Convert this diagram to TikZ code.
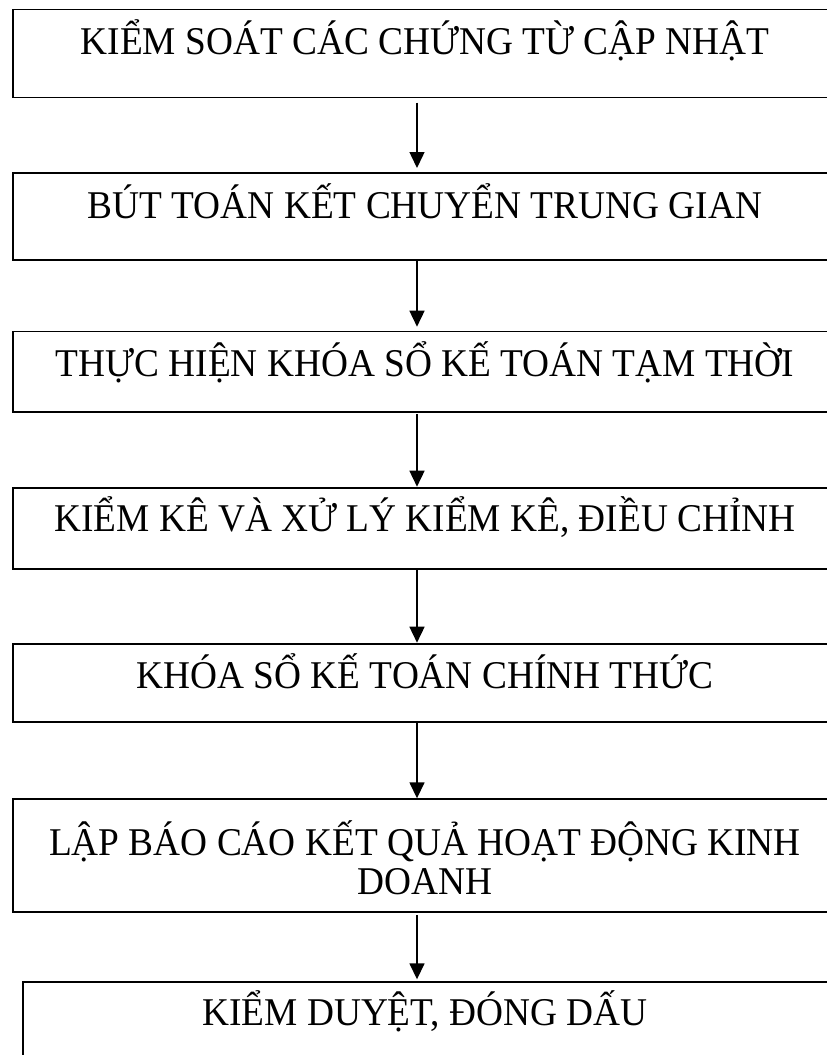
\documentclass[tikz,border=0pt]{standalone}
\usepackage{fontspec}
\setmainfont{Liberation Serif}[FakeStretch=0.95]
\usetikzlibrary{arrows.meta}
\begin{document}
\begin{tikzpicture}[x=1pt,y=-1pt,
  box/.style={draw, line width=1.7pt, rectangle, inner sep=0pt, outer sep=0pt, anchor=north west, minimum width=824.3pt},
  lbl/.style={anchor=base, inner sep=0pt, font=\fontsize{39.3}{39}\selectfont},
  arr/.style={line width=1.5pt, -{Triangle[length=16pt,width=15pt]}}]
\useasboundingbox (0,0) rectangle (827,1055);
\clip (0,0) rectangle (827,1055);
\coordinate (ax) at (417,0);
% boxes
\node[box, minimum height=88pt] (b1) at (12.7,9.5) {};
\node[box, minimum height=86.5pt] (b2) at (12.7,173.3) {};
\node[box, minimum height=80.2pt] (b3) at (12.7,331.5) {};
\node[box, minimum height=81.3pt] (b4) at (12.7,488) {};
\node[box, minimum height=77.7pt] (b5) at (12.7,644) {};
\node[box, minimum height=112.4pt, line width=2.1pt] (b6) at (12.7,799.3) {};
\node[box, minimum height=120pt, minimum width=815pt] (b7) at (22.7,981.7) {};
% texts
\node[lbl] (t1) at (425,54) {KIỂM SOÁT CÁC CHỨNG TỪ CẬP NHẬT};
\node[lbl] (t2) at (425,218.3) {BÚT TOÁN KẾT CHUYỂN TRUNG GIAN};
\node[lbl] (t3) at (425,376) {THỰC HIỆN KHÓA SỔ KẾ TOÁN TẠM THỜI};
\node[lbl] (t4) at (425,531.7) {KIỂM KÊ VÀ XỬ LÝ KIỂM KÊ, ĐIỀU CHỈNH};
\node[lbl] (t5) at (425,688.3) {KHÓA SỔ KẾ TOÁN CHÍNH THỨC};
\node[lbl] (t6a) at (425,855) {LẬP BÁO CÁO KẾT QUẢ HOẠT ĐỘNG KINH};
\node[lbl] (t6b) at (425,894) {DOANH};
\node[lbl] (t7) at (425,1025) {KIỂM DUYỆT, ĐÓNG DẤU};
% arrows
\draw[arr] ([yshift=-5.2pt]b1.south -| ax) -- ([yshift=5.3pt]b2.north -| ax);
\draw[arr] ([yshift=-0.3pt]b2.south -| ax) -- ([yshift=4.8pt]b3.north -| ax);
\draw[arr] ([yshift=-2.3pt]b3.south -| ax) -- ([yshift=1.3pt]b4.north -| ax);
\draw[arr] (b4.south -| ax) -- ([yshift=1.3pt]b5.north -| ax);
\draw[arr] (b5.south -| ax) -- ([yshift=1pt]b6.north -| ax);
\draw[arr] ([yshift=-3.3pt]b6.south -| ax) -- ([yshift=2.4pt]b7.north -| ax);
\end{tikzpicture}
\end{document}
